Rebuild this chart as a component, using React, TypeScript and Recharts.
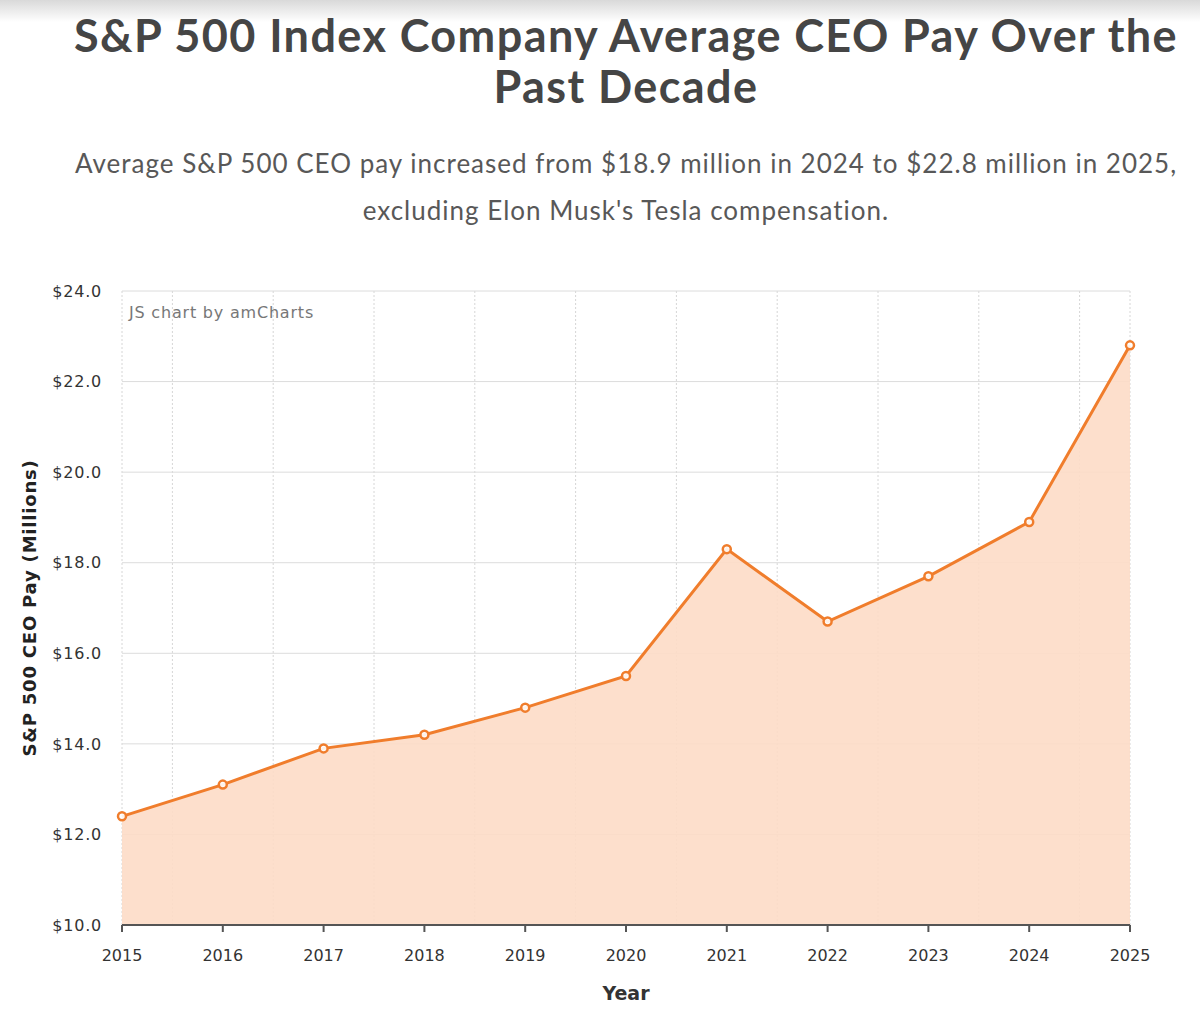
import React from 'react';
import {
  AreaChart,
  Area,
  XAxis,
  YAxis,
  CartesianGrid,
  Label,
} from 'recharts';

// Average CEO pay, $ millions (read off the reference chart)
const years = [2015, 2016, 2017, 2018, 2019, 2020, 2021, 2022, 2023, 2024, 2025];
const pay = [12.4, 13.1, 13.9, 14.2, 14.8, 15.5, 18.3, 16.7, 17.7, 18.9, 22.8];
const yTicks = [10, 12, 14, 16, 18, 20, 22, 24];
// vertical dotted grid sits between the years
const halfYears = [2015.5, 2016.5, 2017.5, 2018.5, 2019.5, 2020.5, 2021.5, 2022.5, 2023.5, 2024.5];

const ORANGE = '#f07d2c';
const FILL = '#fddcc6';
const AXIS_FONT = '"DejaVu Sans", Verdana, sans-serif';
const TITLE_FONT = 'Lato, "Open Sans", sans-serif';

export default function App() {
  const data = years.map((year, i) => ({ year, pay: pay[i] }));

  return (
    <div
      style={{
        position: 'absolute',
        top: 0,
        left: 0,
        width: 1200,
        height: 1027,
        background: '#fff',
        overflow: 'hidden',
      }}
    >
      {/* soft grey shadow along the top edge */}
      <div
        style={{
          position: 'absolute',
          top: 0,
          left: 0,
          width: 1200,
          height: 22,
          background: 'linear-gradient(#d9d9d9, rgba(255,255,255,0))',
        }}
      />
      <div
        style={{
          position: 'absolute',
          top: 10,
          left: 52,
          width: 1148,
          textAlign: 'center',
          fontFamily: TITLE_FONT,
          fontWeight: 700,
          fontSize: 45,
          letterSpacing: 1.4,
          lineHeight: '51px',
          color: '#454545',
          whiteSpace: 'nowrap',
        }}
      >
        S&amp;P 500 Index Company Average CEO Pay Over the
        <br />
        Past Decade
      </div>
      <div
        style={{
          position: 'absolute',
          top: 140,
          left: 52,
          width: 1148,
          textAlign: 'center',
          fontFamily: TITLE_FONT,
          fontWeight: 400,
          fontSize: 26,
          letterSpacing: 1,
          lineHeight: '47px',
          color: '#585858',
          whiteSpace: 'nowrap',
        }}
      >
        Average S&amp;P 500 CEO pay increased from $18.9 million in 2024 to $22.8 million in 2025,
        <br />
        excluding Elon Musk's Tesla compensation.
      </div>

      <div style={{ position: 'absolute', top: 0, left: 0 }}>
        <AreaChart
          width={1200}
          height={1027}
          data={data}
          margin={{ top: 291, right: 70, left: 0, bottom: 52 }}
        >
          <CartesianGrid
            xAxisId="half"
            horizontal={false}
            stroke="#d6d6d6"
            strokeDasharray="2 2"
          />
          <CartesianGrid vertical={false} stroke="#dcdcdc" strokeWidth={1} />
          <XAxis
            xAxisId="half"
            type="number"
            dataKey="year"
            domain={[2015, 2025]}
            ticks={halfYears}
            hide
          />
          <XAxis
            type="number"
            dataKey="year"
            domain={[2015, 2025]}
            ticks={years}
            interval={0}
            height={50}
            tickSize={7}
            tickMargin={18}
            stroke="#555"
            axisLine={{ stroke: '#555', strokeWidth: 2 }}
            tickLine={{ stroke: '#555', strokeWidth: 2 }}
            tick={{ fill: '#333', fontSize: 16, fontFamily: AXIS_FONT }}
          >
            <Label
              value="Year"
              position="insideBottom"
              offset={-25}
              style={{ fill: '#333', fontSize: 19, fontWeight: 700, fontFamily: AXIS_FONT }}
            />
          </XAxis>
          <YAxis
            type="number"
            domain={[10, 24]}
            ticks={yTicks}
            interval={0}
            width={122}
            tickSize={0}
            tickMargin={20}
            axisLine={false}
            tickLine={false}
            tickFormatter={(v: number) => `$${v.toFixed(1)}`}
            tick={{ fill: '#333', fontSize: 16, letterSpacing: 0.8, fontFamily: AXIS_FONT }}
          >
            <Label
              value="S&P 500 CEO Pay (Millions)"
              angle={-90}
              position="insideLeft"
              offset={30}
              style={{
                fill: '#222',
                fontSize: 18,
                fontWeight: 700,
                letterSpacing: 0.8,
                fontFamily: AXIS_FONT,
                textAnchor: 'middle',
              }}
            />
          </YAxis>
          <Area
            type="linear"
            dataKey="pay"
            stroke={ORANGE}
            strokeWidth={3}
            fill={FILL}
            fillOpacity={0.9}
            dot={{ r: 4, fill: '#fff', stroke: ORANGE, strokeWidth: 2.5 }}
            activeDot={false}
            isAnimationActive={false}
          />
          <text
            x={129}
            y={318}
            fill="#777"
            fontSize={16}
            letterSpacing={0.8}
            fontFamily={AXIS_FONT}
          >
            JS chart by amCharts
          </text>
        </AreaChart>
      </div>
    </div>
  );
}
